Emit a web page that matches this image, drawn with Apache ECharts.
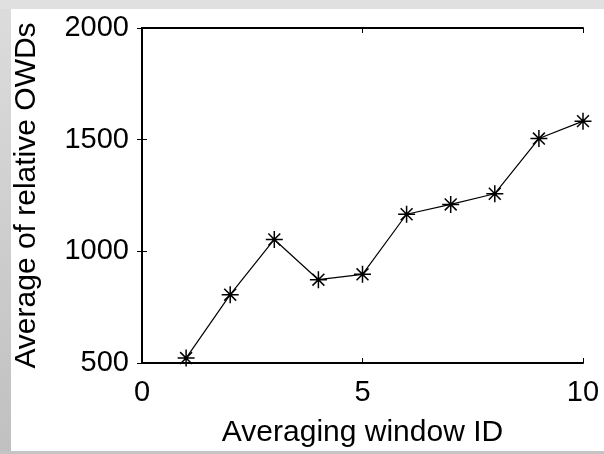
<!DOCTYPE html>
<html>
<head>
<meta charset="utf-8">
<script src="https://cdn.jsdelivr.net/npm/echarts@6/dist/echarts.min.js"></script>
<style>
html,body{margin:0;padding:0;background:#d4d4d4;}
#chart{width:604px;height:454px;}
</style>
</head>
<body>
<div id="chart"></div>
<script>
var windowIds = [1, 2, 3, 4, 5, 6, 7, 8, 9, 10];
var avgOwds = [522, 806, 1053, 873, 897, 1166, 1210, 1258, 1505, 1583];
var xTicks = [0, 5, 10];
var yTicks = [500, 1000, 1500, 2000];
var xName = 'Averaging window ID';
var yName = 'Average of relative OWDs';

var chart = echarts.init(document.getElementById('chart'), null, {renderer: 'canvas'});
var font = '"Liberation Sans", Arial, sans-serif';
var axisLine = {show: true, lineStyle: {color: '#000', width: 2}};
var tickIn = {show: true, inside: true, length: 5, lineStyle: {color: '#000', width: 1}};
var plain = function (v) { return String(v); };

var option = {
  backgroundColor: '#d4d4d4',
  animation: false,
  graphic: [
    {type: 'rect', z: -10, shape: {x: 0, y: 0, width: 604, height: 9}, style: {fill: '#e0e0e0'}},
    {type: 'rect', z: -10, shape: {x: 0, y: 9, width: 11, height: 445},
      style: {fill: new echarts.graphic.LinearGradient(0, 0, 0, 1, [{offset: 0, color: '#dcdcdc'}, {offset: 1, color: '#c0c0c0'}])}},
    {type: 'rect', z: -10, shape: {x: 0, y: 451, width: 604, height: 3}, style: {fill: '#c4c4c4'}},
    {type: 'rect', z: -10, shape: {x: 11, y: 9, width: 593, height: 442}, style: {fill: '#ffffff'}}
  ],
  grid: {left: 142, top: 28, right: 21, bottom: 91, containLabel: false},
  xAxis: [{
    type: 'value', min: xTicks[0], max: xTicks[xTicks.length - 1], interval: 5,
    position: 'bottom',
    name: xName, nameLocation: 'middle', nameGap: 55,
    nameTextStyle: {fontFamily: font, fontSize: 30, color: '#000'},
    axisLine: axisLine, axisTick: tickIn, splitLine: {show: false},
    axisLabel: {fontFamily: font, fontSize: 29, color: '#000', margin: 15, formatter: plain}
  }, {
    type: 'value', min: xTicks[0], max: xTicks[xTicks.length - 1], interval: 5,
    position: 'top',
    axisLine: axisLine, axisTick: tickIn, splitLine: {show: false},
    axisLabel: {show: false}
  }],
  yAxis: [{
    type: 'value', min: yTicks[0], max: yTicks[yTicks.length - 1], interval: 500,
    position: 'left',
    name: yName, nameLocation: 'middle', nameGap: 100,
    nameTextStyle: {fontFamily: font, fontSize: 30, color: '#000'},
    axisLine: axisLine, axisTick: tickIn, splitLine: {show: false},
    axisLabel: {fontFamily: font, fontSize: 29, color: '#000', margin: 13, formatter: plain}
  }, {
    type: 'value', min: yTicks[0], max: yTicks[yTicks.length - 1], interval: 500,
    position: 'right',
    axisLine: axisLine, axisTick: tickIn, splitLine: {show: false},
    axisLabel: {show: false}
  }],
  series: [{
    type: 'line',
    data: windowIds.map(function (x, i) { return [x, avgOwds[i]]; }),
    symbol: 'path://M10,0L10,20M0,10L20,10M3,3L17,17M3,17L17,3',
    symbolSize: 17,
    showAllSymbol: true,
    lineStyle: {color: '#000', width: 1.2},
    itemStyle: {color: '#000', borderColor: '#000', borderWidth: 1.5},
    clip: false
  }]
};
chart.setOption(option);
</script>
</body>
</html>
